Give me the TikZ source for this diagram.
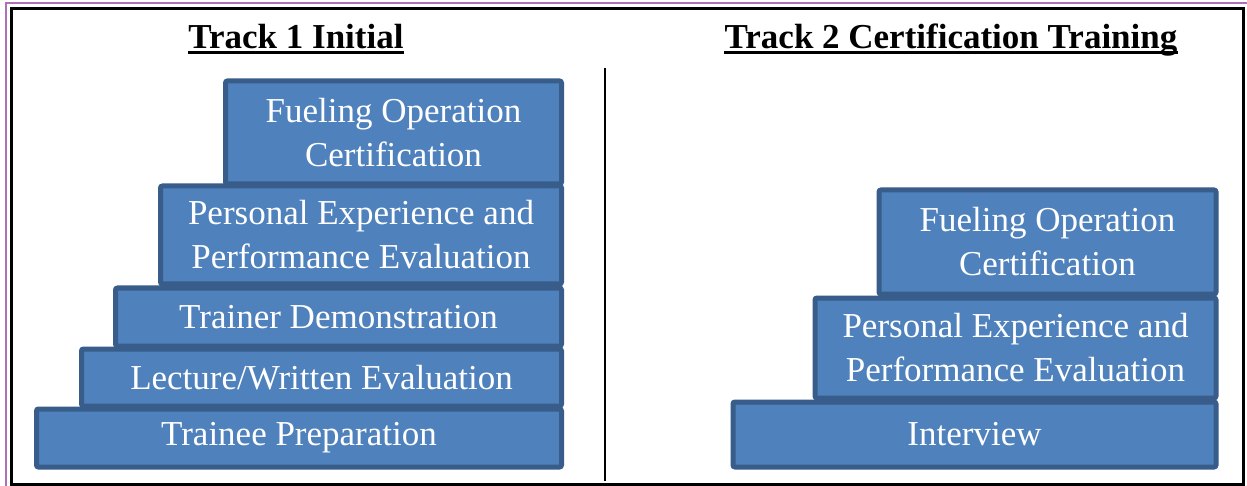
\documentclass[tikz,border=0pt]{standalone}
\usepackage{fontspec}
\setmainfont{Liberation Serif}
\definecolor{boxfill}{HTML}{4F81BD}
\definecolor{boxline}{HTML}{385D8A}
\definecolor{purpleedge}{HTML}{B070B8}
\begin{document}
\begin{tikzpicture}[x=1pt,y=-1pt,
  stepbox/.style={draw=boxline, fill=boxfill, line width=5pt, rounded corners=2pt,
    text=white, align=center, inner sep=0pt,
    font=\fontsize{35}{44}\selectfont},
  title/.style={anchor=base, inner sep=0pt, font=\fontsize{35}{40}\selectfont\bfseries}]
\useasboundingbox (0,0) rectangle (1247,486);
\fill[white] (0,0) rectangle (1247,486);
\draw[purpleedge, line width=1.2pt] (6,3) rectangle (1260,500);
\draw[black, line width=3pt] (11.5,8.5) rectangle (1243.5,484.5);
\draw[black, line width=2.5pt] (605,68) -- (605,481);
% Track 1
\node[title] (h1) at (296,49) {Track 1 Initial};
\draw[line width=3pt] ([yshift=-4pt]h1.base west) -- ([yshift=-4pt]h1.base east);
\node[stepbox, minimum width=336pt, minimum height=103pt] (f1) at (393.5,132.5) {Fueling Operation\\Certification};
\node[stepbox, minimum width=401pt, minimum height=98pt] (p1) at (361,235) {Personal Experience and\\Performance Evaluation};
\node[stepbox, minimum width=446pt, minimum height=58pt] (d1) at (338.5,317) {Trainer Demonstration};
\node[stepbox, minimum width=480pt, minimum height=57pt] (l1) at (321.5,377.5) {Lecture/Written Evaluation};
\node[stepbox, minimum width=525pt, minimum height=58pt] (t1) at (299,438) {Trainee Preparation};
% Track 2
\node[title] (h2) at (951,49) {Track 2 Certification Training};
\draw[line width=3pt] ([yshift=-4pt]h2.base west) -- ([yshift=-4pt]h2.base east);
\node[stepbox, minimum width=337pt, minimum height=104pt] (f2) at (1047.5,242) {Fueling Operation\\Certification};
\node[stepbox, minimum width=401pt, minimum height=100pt] (p2) at (1015.5,348) {Personal Experience and\\Performance Evaluation};
\node[stepbox, minimum width=483pt, minimum height=65pt] (i2) at (974.5,434.5) {Interview};
\end{tikzpicture}
\end{document}
